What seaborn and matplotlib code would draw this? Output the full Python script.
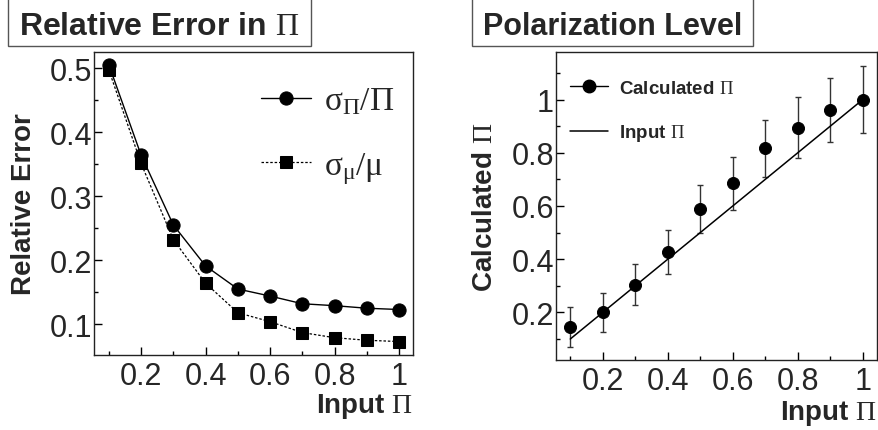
import numpy as np
import pandas as pd
import seaborn as sns
import matplotlib
matplotlib.use("Agg")
import matplotlib.pyplot as plt
from matplotlib.patches import Rectangle
from matplotlib.lines import Line2D
from matplotlib.ticker import MultipleLocator

# datos
input_pi = [0.1, 0.2, 0.3, 0.4, 0.5, 0.6, 0.7, 0.8, 0.9, 1.0]
rel_err_pi = [0.505, 0.364, 0.255, 0.191, 0.155, 0.144, 0.132, 0.129, 0.125, 0.123]
rel_err_mu = [0.497, 0.351, 0.232, 0.164, 0.118, 0.104, 0.087, 0.079, 0.075, 0.073]
calc_pi = [0.144, 0.200, 0.304, 0.428, 0.589, 0.685, 0.817, 0.895, 0.962, 1.000]
calc_err = [0.075, 0.074, 0.078, 0.082, 0.090, 0.099, 0.107, 0.115, 0.120, 0.125]

sns.set_style("ticks")
plt.rcParams["font.family"] = ["Liberation Sans", "DejaVu Sans"]
plt.rcParams["mathtext.fontset"] = "custom"
plt.rcParams["mathtext.rm"] = "Liberation Serif"
plt.rcParams["mathtext.it"] = "Liberation Serif:italic"
plt.rcParams["mathtext.bf"] = "Liberation Serif:bold"

W, H = 879, 431
fig = plt.figure(figsize=(W / 100, H / 100), dpi=100)
ax1 = fig.add_axes([94 / W, 1 - 356 / H, 319 / W, 303 / H])
ax2 = fig.add_axes([556 / W, 1 - 361 / H, 321 / W, 308 / H])

PI = r"$\mathrm{\Pi}$"

# panel izquierdo: error relativo
sns.lineplot(x=input_pi, y=rel_err_pi, ax=ax1, color="black", lw=1,
             marker="o", markersize=9.5, markeredgecolor="black",
             label=r"$\mathrm{\sigma_{\Pi}/\Pi}$")
sns.lineplot(x=input_pi, y=rel_err_mu, ax=ax1, color="black", lw=0.9,
             linestyle=(0, (2, 1.5)), marker="s", markersize=8.5,
             markeredgecolor="black", label=r"$\mathrm{\sigma_{\mu}/\mu}$")
ax1.set_xlim(0.054, 1.043)
ax1.set_ylim(0.052, 0.525)
ax1.xaxis.set_minor_locator(MultipleLocator(0.1))
ax1.yaxis.set_minor_locator(MultipleLocator(0.05))
ax1.set_xticks([0.2, 0.4, 0.6, 0.8, 1.0], ["0.2", "0.4", "0.6", "0.8", "1"])
ax1.set_yticks([0.1, 0.2, 0.3, 0.4, 0.5], ["0.1", "0.2", "0.3", "0.4", "0.5"])
ax1.set_xlabel("Input " + PI, fontsize=20, fontweight="bold", loc="right",
               labelpad=0)
ax1.set_ylabel("Relative Error", fontsize=20, fontweight="bold", labelpad=9)
ax1.legend(loc="upper left", bbox_to_anchor=(0.522, 0.89), frameon=False,
           fontsize=24, handlelength=1.5, handletextpad=0.4,
           labelspacing=1.0, borderpad=0, borderaxespad=0)

# panel derecho: nivel de polarizacion
ax2.errorbar(input_pi, calc_pi, yerr=calc_err, fmt="none", ecolor="#333333",
             elinewidth=1, capsize=2, capthick=1, zorder=2)
sns.lineplot(x=input_pi, y=input_pi, ax=ax2, color="black", lw=1.1, zorder=3)
sns.scatterplot(x=input_pi, y=calc_pi, ax=ax2, color="black", s=75,
                edgecolor="black", zorder=4)
ax2.set_xlim(0.056, 1.044)
ax2.set_ylim(0.021, 1.179)
ax2.xaxis.set_minor_locator(MultipleLocator(0.1))
ax2.yaxis.set_minor_locator(MultipleLocator(0.1))
ax2.set_xticks([0.2, 0.4, 0.6, 0.8, 1.0], ["0.2", "0.4", "0.6", "0.8", "1"])
ax2.set_yticks([0.2, 0.4, 0.6, 0.8, 1.0], ["0.2", "0.4", "0.6", "0.8", "1"])
ax2.set_xlabel("Input " + PI, fontsize=20, fontweight="bold", loc="right",
               labelpad=2)
ax2.set_ylabel("Calculated " + PI, fontsize=20, fontweight="bold", labelpad=9.5)
handles = [Line2D([], [], color="black", lw=1, marker="o", markersize=9),
           Line2D([], [], color="black", lw=1.1)]
ax2.legend(handles, ["Calculated " + PI, "Input " + PI], loc="upper left",
           bbox_to_anchor=(0.044, 0.91), frameon=False,
           prop={"size": 13.5, "weight": "bold"}, handlelength=2.0,
           handletextpad=0.6, labelspacing=1.36, borderpad=0, borderaxespad=0)

for ax in (ax1, ax2):
    ax.tick_params(which="both", direction="in", top=False, right=False,
                   labelsize=22, width=1, color="black")
    ax.tick_params(which="major", length=6)
    ax.tick_params(which="minor", length=3)
    ax.tick_params(axis="y", which="major", pad=1.5)
    ax.tick_params(axis="x", which="major", pad=4)
    for sp in ax.spines.values():
        sp.set_visible(True)
        sp.set_color("#222222")
        sp.set_linewidth(1)

# cajas de titulo al estilo ROOT
for (x0, x1, txt, fs) in [(8, 311, "Relative Error in " + PI, 23),
                          (472, 753, "Polarization Level", 22)]:
    fig.patches.append(Rectangle((x0 / W, 1 - 47 / H), (x1 - x0) / W, 50 / H,
                                 transform=fig.transFigure, facecolor="white",
                                 edgecolor="#555555", lw=1))
    fig.text((x0 + x1) / 2 / W, 1 - 27 / H, txt, ha="center", va="center",
             fontsize=fs, fontweight="bold")

fig.savefig("out.png", dpi=100)
